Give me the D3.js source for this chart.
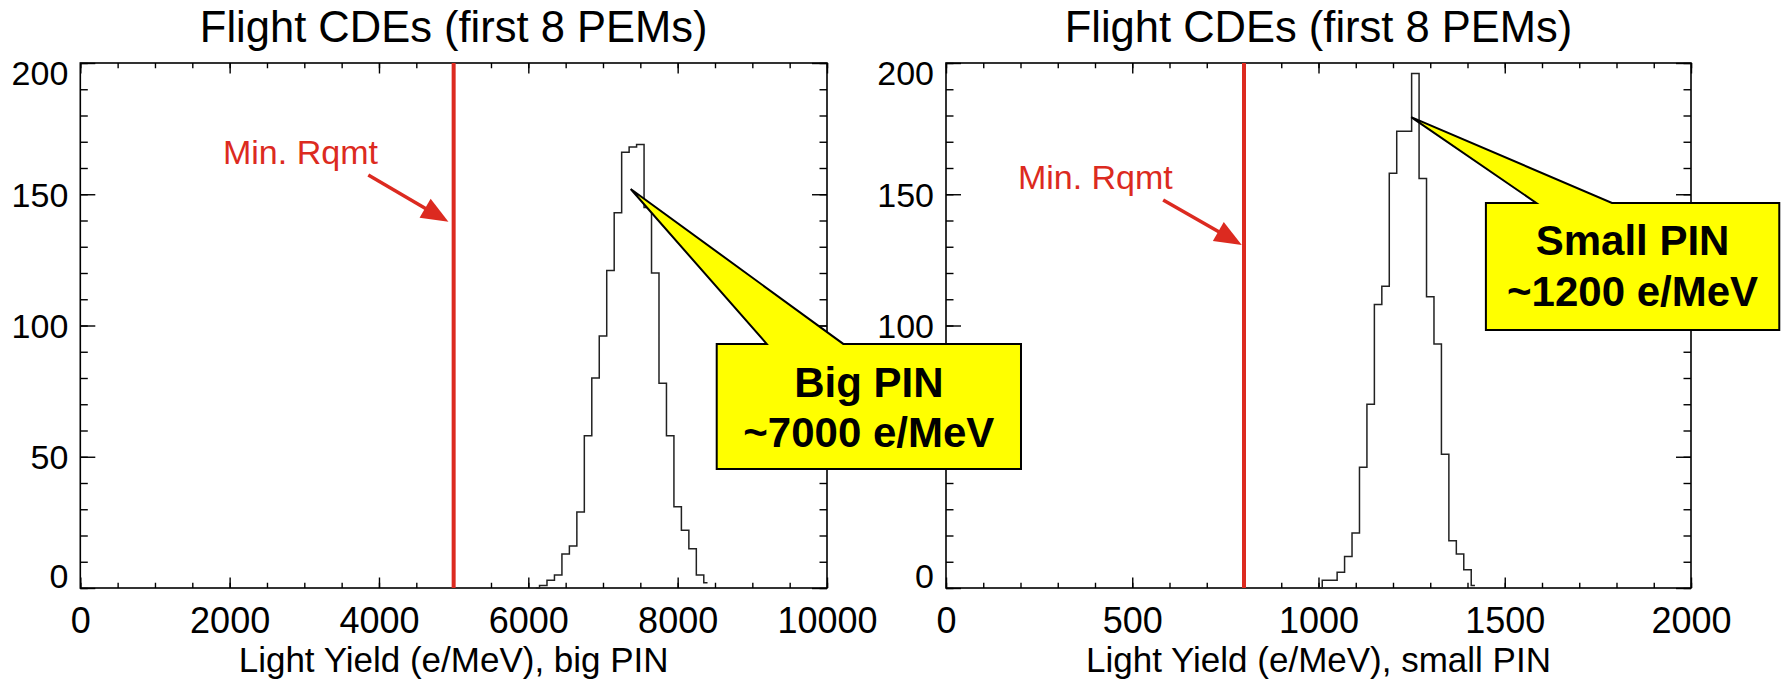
<!DOCTYPE html>
<html><head><meta charset="utf-8">
<script src="https://cdn.jsdelivr.net/npm/d3@7"></script>
<style>
html,body{margin:0;padding:0;background:#fff;}
svg{display:block;font-family:"Liberation Sans",Arial,Helvetica,sans-serif;}
</style></head><body>
<svg id="chart" width="1784" height="679"></svg>
<script>
// ---------------- data ----------------
const bigPinBins   = [6100,6200,6300,6400,6500,6600,6700,6800,6900,7000,7100,7200,7300,7400,7500,7600,7700,7800,7900,8000,8100,8200,8300,8400];
const bigPinCounts = [0,1,3,5,13,16,29,58,80,96,121,143,166,168,169,145,120,78,58,31,22,15,5,2];
const smallPinBins   = [1000,1020,1040,1060,1080,1100,1120,1140,1160,1180,1200,1220,1240,1260,1280,1300,1320,1340,1360,1380,1400,1420];
const smallPinCounts = [0,3,3,6,12,21,46,70,108,115,158,174,174,196,156,111,93,51,18,13,7,1];
const bigPinTicks   = [0,2000,4000,6000,8000,10000];
const smallPinTicks = [0,500,1000,1500,2000];
const yTicks = [0,50,100,150,200];
const panelTitles = ["Flight CDEs (first 8 PEMs)","Flight CDEs (first 8 PEMs)"];
const xTitles = ["Light Yield (e/MeV), big PIN","Light Yield (e/MeV), small PIN"];
const minRequirement = [5000, 800];
const minReqLabel = "Min. Rqmt";
const calloutLines = [["Big PIN","~7000 e/MeV"],["Small PIN","~1200 e/MeV"]];

// ---------------- layout ----------------
const RED = "#dc2a20";
const TOP = 63, BOTTOM = 588;
const FONT = '"Liberation Sans",Arial,sans-serif';
const panels = [
  {x0:80.3, x1:827, xMax:10000, minor:500, ticks:bigPinTicks, bins:bigPinBins, counts:bigPinCounts,
   label:{x:1911,y:161.4}, arrow:{from:[3857,157.3], to:[4930,139.5]},
   callout:{tip:[7371,152], baseL:9192, baseR:10218, bx:[8523,12598], by:[93,45.3], ty:[72.8,53.6]}},
  {x0:946, x1:1691, xMax:2000, minor:100, ticks:smallPinTicks, bins:smallPinBins, counts:smallPinCounts,
   label:{x:193,y:151.9}, arrow:{from:[583,147.8], to:[794,130.7]},
   callout:{tip:[1248.8,179.4], baseL:1584.5, baseR:1787.8, bx:[1449.4,2237], by:[146.7,98.3], ty:[126.9,107.6]}}
];

const svg = d3.select("#chart");
const overlay = [];

panels.forEach((p, i) => {
  const x = d3.scaleLinear().domain([0, p.xMax]).range([p.x0, p.x1]);
  const y = d3.scaleLinear().domain([0, 200]).range([BOTTOM, TOP]);
  const g = svg.append("g");
  const W = p.x1 - p.x0, Hh = BOTTOM - TOP;
  const xMinor = d3.range(0, p.xMax + 1e-9, p.minor);
  const yMinor = d3.range(0, 201, 10);

  function axisG(axis, tx, ty) {
    const a = g.append("g").attr("transform", `translate(${tx},${ty})`).call(axis);
    a.select(".domain").remove();
    a.selectAll("line").attr("stroke", "#000").attr("stroke-width", 1.4);
    return a;
  }
  const xtLen = 10.5, ytLen = 15;
  // bottom
  axisG(d3.axisBottom(x).tickValues(xMinor).tickSize(-xtLen/2).tickFormat(""), 0, BOTTOM);
  const bx = axisG(d3.axisBottom(x).tickValues(p.ticks).tickSize(-xtLen).tickFormat(d3.format("d")), 0, BOTTOM);
  bx.selectAll("text").attr("y", 45).attr("dy", null).attr("font-size", 36)
    .attr("fill", "#000").attr("font-family", FONT);
  // top
  axisG(d3.axisTop(x).tickValues(xMinor).tickSize(-xtLen/2).tickFormat(""), 0, TOP);
  axisG(d3.axisTop(x).tickValues(p.ticks).tickSize(-xtLen).tickFormat(""), 0, TOP);
  // left
  axisG(d3.axisLeft(y).tickValues(yMinor).tickSize(-ytLen/2).tickFormat(""), p.x0, 0);
  const ly = axisG(d3.axisLeft(y).tickValues(yTicks).tickSize(-ytLen).tickFormat(d3.format("d")), p.x0, 0);
  ly.selectAll("text").attr("x", -12).attr("dy", d => d === 200 ? "0.62em" : d === 0 ? "-0.02em" : "0.35em")
    .attr("font-size", 34).attr("fill", "#000").attr("font-family", FONT);
  // right
  axisG(d3.axisRight(y).tickValues(yMinor).tickSize(-ytLen/2).tickFormat(""), p.x1, 0);
  axisG(d3.axisRight(y).tickValues(yTicks).tickSize(-ytLen).tickFormat(""), p.x1, 0);

  // frame
  g.append("rect").attr("x", p.x0).attr("y", TOP).attr("width", W).attr("height", Hh)
    .attr("fill", "none").attr("stroke", "#000").attr("stroke-width", 1.6);

  // histogram (IDL psym=10 style step)
  const line = d3.line().x((d, k) => x(p.bins[k])).y(d => y(d)).curve(d3.curveStep);
  g.append("path").attr("d", line(p.counts)).attr("fill", "none")
    .attr("stroke", "#222").attr("stroke-width", 1.5);

  // min requirement line
  g.append("line").attr("x1", x(minRequirement[i])).attr("x2", x(minRequirement[i]))
    .attr("y1", TOP).attr("y2", BOTTOM).attr("stroke", RED).attr("stroke-width", 4);

  // titles
  svg.append("text").attr("x", (p.x0 + p.x1) / 2).attr("y", 42).attr("text-anchor", "middle")
    .attr("font-size", 43.5).attr("fill", "#000").text(panelTitles[i]);
  svg.append("text").attr("x", (p.x0 + p.x1) / 2).attr("y", 672).attr("text-anchor", "middle")
    .attr("font-size", 35).attr("fill", "#000").text(xTitles[i]);

  // Min. Rqmt label + arrow
  g.append("text").attr("x", x(p.label.x)).attr("y", y(p.label.y)).attr("font-size", 34)
    .attr("fill", RED).text(minReqLabel);
  const [ax0, ay0] = [x(p.arrow.from[0]), y(p.arrow.from[1])];
  const [ax1, ay1] = [x(p.arrow.to[0]), y(p.arrow.to[1])];
  const ang = Math.atan2(ay1 - ay0, ax1 - ax0);
  const hl = 27, hw = 11;
  const bxp = ax1 - hl * Math.cos(ang), byp = ay1 - hl * Math.sin(ang);
  g.append("line").attr("x1", ax0).attr("y1", ay0).attr("x2", bxp + 2*Math.cos(ang)).attr("y2", byp + 2*Math.sin(ang))
    .attr("stroke", RED).attr("stroke-width", 3.5);
  g.append("path").attr("d", d3.line()([
      [ax1, ay1],
      [bxp - hw * Math.sin(ang), byp + hw * Math.cos(ang)],
      [bxp + hw * Math.sin(ang), byp - hw * Math.cos(ang)]
    ]) + "Z").attr("fill", RED);

  overlay.push({p, x, y});
});

// callouts drawn on top
overlay.forEach(({p, x, y}, i) => {
  const c = p.callout;
  const L = x(c.bx[0]), R = Math.min(x(c.bx[1]), 1782), T = y(c.by[0]), B = y(c.by[1]);
  const pts = [
    [x(c.tip[0]), y(c.tip[1])],
    [x(c.baseR), T], [R, T], [R, B], [L, B], [L, T], [x(c.baseL), T]
  ];
  svg.append("path").attr("d", d3.line()(pts) + "Z").attr("fill", "#ffff00")
    .attr("stroke", "#000").attr("stroke-width", 2).attr("stroke-linejoin", "miter");
  calloutLines[i].forEach((t, k) => {
    svg.append("text").attr("x", (L + R) / 2).attr("y", y(c.ty[k])).attr("text-anchor", "middle")
      .attr("font-size", 42).attr("font-weight", "bold").attr("fill", "#000").text(t);
  });
});
</script>
</body></html>
